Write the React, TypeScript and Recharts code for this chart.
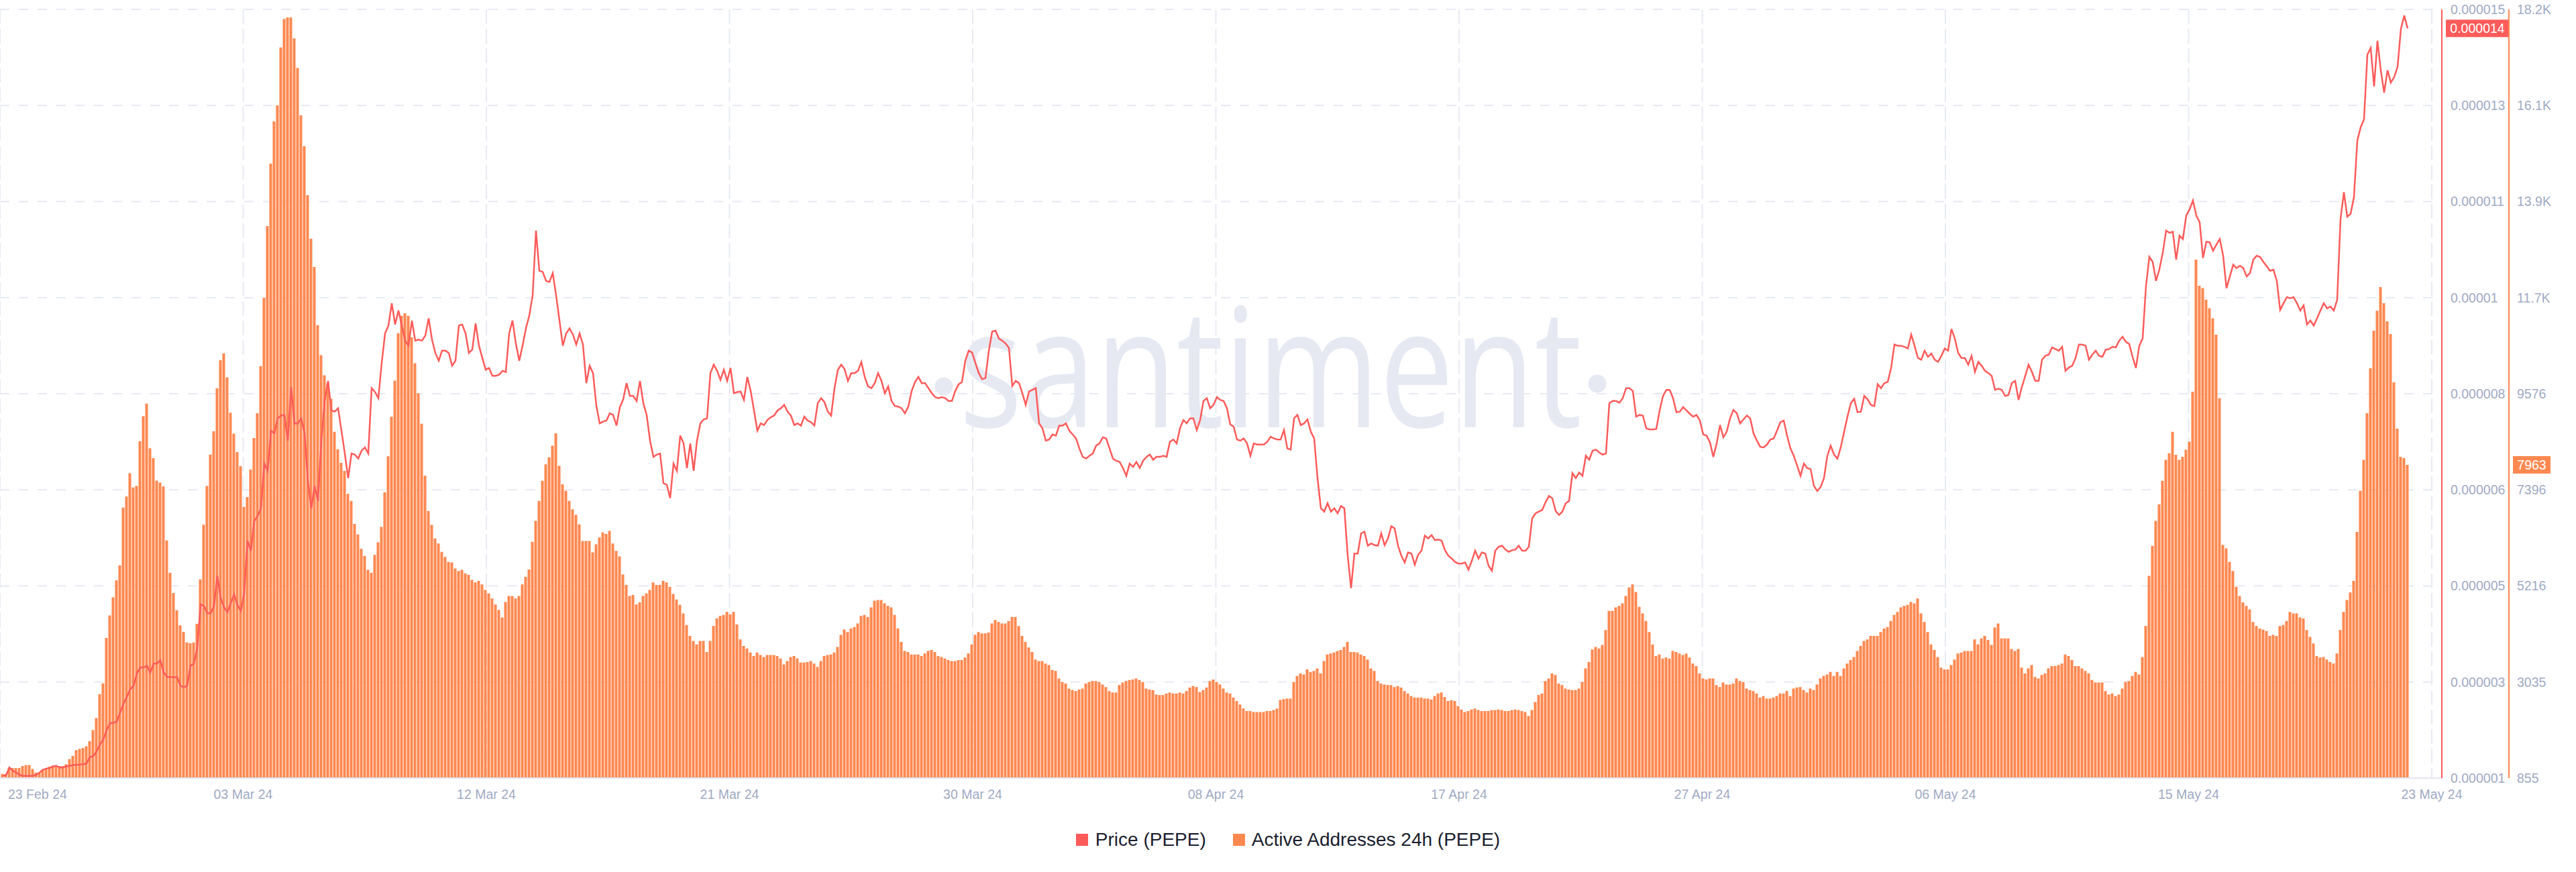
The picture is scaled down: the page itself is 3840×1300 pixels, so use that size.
import React from "react";
import {
  ComposedChart, Bar, Line, XAxis, YAxis, CartesianGrid, ReferenceLine,
} from "recharts";

// PEPE, 3-hourly samples from 23 Feb 24 to 23 May 24
const activeAddresses = [
  950, 950, 1083, 1083, 1083, 1083, 1129, 1150, 1150, 1062, 980, 980, 1048, 1068, 1115, 1137, 1129, 1129, 1129, 1170,
  1286, 1360, 1490, 1517, 1537, 1578, 1694, 1945, 2217, 2760, 3004, 4037, 4547, 4955, 5342, 5681, 6993, 7244, 7774, 7448,
  7482, 8501, 9066, 9350, 8338, 8115, 7605, 7558, 7470, 6246, 5512, 5057, 4663, 4323, 4173, 3935, 3916, 3935, 4357, 5363,
  6606, 7482, 8196, 8725, 9698, 10337, 10492, 9949, 9147, 8672, 8251, 7931, 7007, 7232, 7856, 8570, 9133, 10200,
  11753, 13381, 14797, 15755, 16121, 17434, 18079, 18114, 18114, 17638, 16968, 15892, 15192, 14081, 13092, 12452,
  11131, 10450, 9996, 9814, 9462, 8713, 8315, 8009, 7827, 7305, 7146, 6623, 6385, 6056, 5897, 5579, 5511, 5919, 6203, 6555,
  7339, 8156, 9053, 9871, 10950, 11347, 11404, 11347, 10859, 10268, 9587, 8894, 7714, 6918, 6601, 6294, 6180, 5987, 5874, 5760,
  5749, 5613, 5556, 5579, 5499, 5465, 5352, 5295, 5329, 5249, 5124, 5045, 4931, 4795, 4670, 4500, 4852, 4988, 4988, 4931,
  4988, 5249, 5420, 5590, 6215, 6691, 7146, 7600, 7975, 8134, 8395, 8679, 7941, 7520, 7373, 7146, 6953, 6828, 6612, 6237,
  6237, 6237, 5976, 6158, 6317, 6430, 6396, 6464, 6180, 6010, 5885, 5476, 5238, 4988, 5011, 4795, 4841,
  4988, 5045, 5124, 5295, 5238, 5238, 5329, 5295, 5193, 5034, 4909, 4784, 4591, 4330, 4080, 3966, 3887, 3966, 3966, 3717,
  3966, 4307, 4477, 4534, 4557, 4625, 4568, 4625, 4341, 4000, 3853, 3796, 3705, 3626, 3705, 3648, 3603, 3648, 3648, 3648,
  3626, 3569, 3433, 3512, 3603, 3626, 3569, 3478, 3478, 3489, 3512, 3455, 3376, 3512, 3626, 3648, 3660, 3705, 3830, 4103,
  4227, 4171, 4250, 4284, 4364, 4534, 4557, 4511, 4727, 4875, 4897, 4897, 4818, 4761, 4727, 4557, 4250, 3944, 3739, 3717,
  3660, 3660, 3660, 3626, 3683, 3739, 3762, 3717, 3626, 3603, 3569, 3535, 3512, 3512, 3535, 3535, 3592, 3683, 3887, 4103,
  4171, 4137, 4137, 4159, 4364, 4443, 4398, 4364, 4364, 4420, 4511, 4511, 4307, 4080, 3944, 3819, 3717, 3546, 3512, 3512,
  3455, 3421, 3308, 3285, 3115, 3035, 3001, 2888, 2853, 2831, 2865, 2888, 3001, 3035, 3058, 3058, 3035, 2978, 2922, 2831,
  2797, 2797, 2967, 3024, 3058, 3081, 3092, 3115, 3081, 3035, 2888, 2865, 2853, 2751, 2740, 2740, 2774, 2797, 2774, 2774,
  2797, 2774, 2831, 2910, 2944, 2922, 2808, 2853, 2910, 3058, 3092, 3035, 2978, 2888, 2797, 2774, 2683, 2604, 2524, 2433,
  2377, 2377, 2354, 2354, 2354, 2354, 2377, 2377, 2399, 2433,
  2626, 2649, 2660, 2660, 3035, 3171, 3228, 3205, 3319, 3262, 3285, 3342, 3228, 3512, 3660, 3683, 3705, 3739, 3762, 3830,
  3944, 3717, 3717, 3705, 3660, 3626, 3546, 3342, 3285, 3058, 3001, 2978, 2967, 2967, 2922, 2944, 2910, 2831, 2774, 2717,
  2683, 2683, 2683, 2660, 2660, 2638, 2717, 2774, 2797, 2695, 2604, 2626, 2604, 2490, 2411, 2354, 2377, 2411, 2433, 2399,
  2377, 2377, 2377, 2399, 2399, 2411, 2399, 2377, 2377, 2399, 2411, 2399, 2377, 2354, 2263, 2399, 2581, 2740, 2774, 3058,
  3115, 3228, 3194, 3001, 2967, 2888, 2865, 2853, 2853, 2888, 3035, 3342, 3489, 3773, 3830, 3796, 3875, 4216, 4648, 4648,
  4727, 4761, 4818, 4988, 5181, 5249, 5079, 4738, 4591, 4420, 4171, 3887, 3626, 3660, 3569, 3592, 3569, 3739, 3717, 3683,
  3648, 3683, 3592, 3455, 3398, 3228, 3115, 3092, 3115, 3115, 2967, 2922, 3024, 2978, 2978, 3001, 3115, 3058, 3035, 2888,
  2853, 2831, 2774, 2683, 2717, 2660, 2660, 2683, 2717, 2774, 2774, 2831, 2717, 2888, 2910, 2922, 2853, 2797, 2888, 2853,
  2978, 3115, 3171, 3205, 3262, 3171, 3262, 3171, 3342, 3455, 3535, 3603, 3739, 3853, 3966, 4000, 4080, 4080, 4080, 4171,
  4250, 4284, 4420, 4557, 4625, 4727, 4761, 4784, 4852,
  4818, 4931, 4591, 4398, 4171, 3887, 3762, 3603, 3364, 3319, 3319, 3421, 3546, 3683, 3705, 3739, 3739, 3739, 4000, 3887,
  4023, 4080, 3989, 3875, 4273, 4364, 4023, 4023, 4023, 3785, 3739, 3785, 3364, 3228, 3342, 3421, 3149, 3115, 3194, 3228,
  3342, 3398, 3398, 3421, 3455, 3660, 3626, 3535, 3398, 3398, 3342, 3285, 3228, 3081, 3024, 3024, 3024, 2831, 2751, 2774,
  2717, 2751, 2888, 3035, 3058, 3171, 3262, 3205, 3603, 4307, 5443, 6124, 6691, 7066, 7600, 8077, 8224, 8713, 8190, 8077,
  8145, 8304, 8486, 9621, 12619, 12028, 11972, 11711, 11518, 11290, 10915, 9473, 6146, 6067, 5760, 5556, 5193, 4988, 4841, 4761,
  4682, 4398, 4307, 4250, 4227, 4193, 4080, 4103, 4080, 4307, 4330, 4420, 4625, 4591, 4591, 4500, 4477, 4216, 4057, 3910,
  3626, 3592, 3603, 3546, 3489, 3455, 3683, 4216, 4625, 4897, 5068, 5329, 6442, 7373, 8077, 9133, 10155, 11007, 11461, 11995,
  11631, 11220, 10931, 9835, 8785, 8145, 8115, 7963,
];

// price in USD x 1e6
const priceMicro = [
  1.14, 1.15, 1.29, 1.23, 1.20, 1.16, 1.14, 1.14, 1.14, 1.14, 1.16, 1.20, 1.25, 1.27, 1.28, 1.31, 1.32, 1.29, 1.29, 1.31,
  1.32, 1.33, 1.34, 1.34, 1.35, 1.36, 1.48, 1.49, 1.58, 1.70, 1.79, 1.96, 2.08, 2.09, 2.11, 2.27, 2.43, 2.55, 2.69, 2.75,
  2.97, 3.08, 3.08, 3.11, 2.99, 3.15, 3.15, 3.21, 2.99, 2.91, 2.91, 2.90, 2.91, 2.75, 2.73, 2.75, 3.11, 3.15, 3.42, 4.21,
  4.18, 4.05, 4.05, 4.18, 4.72, 4.32, 4.16, 4.07, 4.23, 4.39, 4.20, 4.09, 4.41, 5.35, 5.17, 5.70, 5.79, 5.93, 6.73, 6.60,
  7.32, 7.27, 7.54, 7.59, 7.60, 7.14, 8.10, 7.45, 7.45, 7.54, 7.27, 6.42, 5.93, 6.33, 6.06, 7.14, 7.85, 8.21, 7.68, 7.66,
  7.72, 7.32, 6.91, 6.47, 6.91, 6.89, 6.82, 6.96, 7.02, 6.91, 8.08, 8.01, 7.90, 8.53, 9.06, 9.20, 9.60, 9.22, 9.47, 9.20,
  8.93, 8.84, 9.29, 8.93, 8.95, 8.93, 9.02, 9.33, 8.95, 8.71, 8.57, 8.75, 8.75, 8.71, 8.48, 8.57, 9.20, 9.22, 9.06, 8.71,
  8.77, 9.24, 8.84, 8.62, 8.41, 8.44, 8.30, 8.30, 8.32, 8.39, 8.37, 9.06, 9.29, 8.88, 8.57, 8.84, 9.15, 9.38, 9.74, 10.90,
  10.18, 10.16, 10.00, 9.98, 10.14, 9.74, 9.29, 8.84, 9.06, 9.15, 9.04, 8.86, 9.06, 8.86, 8.17, 8.48, 8.35, 7.76, 7.45, 7.48,
  7.50, 7.63, 7.60, 7.41, 7.74, 7.88, 8.17, 7.94, 7.94, 7.85, 8.21,
  7.81, 7.60, 7.14, 6.85, 6.89, 6.91, 6.38, 6.35, 6.11, 6.73, 6.60, 7.23, 7.09, 6.65, 7.09, 6.60, 7.14, 7.45, 7.52, 7.54,
  8.35, 8.50, 8.39, 8.23, 8.41, 8.21, 8.44, 7.99, 8.01, 8.02, 7.87, 8.28, 8.03, 7.68, 7.32, 7.45, 7.42, 7.51, 7.56, 7.59,
  7.68, 7.72, 7.78, 7.66, 7.59, 7.42, 7.45, 7.41, 7.57, 7.50, 7.47, 7.41, 7.81, 7.90, 7.83, 7.66, 7.59, 8.08, 8.41, 8.50,
  8.42, 8.21, 8.35, 8.35, 8.39, 8.55, 8.28, 8.11, 8.08, 8.17, 8.35, 8.21, 7.99, 8.11, 7.85, 7.76, 7.75, 7.72, 7.63, 7.75,
  8.03, 8.19, 8.28, 8.17, 8.17, 8.08, 7.99, 7.92, 7.90, 7.92, 7.90, 7.85, 7.85, 8.03, 8.15, 8.19, 8.57, 8.75, 8.72, 8.53,
  8.35, 8.24, 8.26, 8.75, 9.09, 9.11, 8.97, 8.93, 8.88, 8.80, 8.12, 8.21, 8.17, 7.99, 7.78, 8.02, 8.05, 8.08, 7.45, 7.36,
  7.14, 7.16, 7.25, 7.23, 7.41, 7.41, 7.45, 7.32, 7.25, 7.18, 7.00, 6.85, 6.82, 6.87, 6.91, 7.05, 7.09, 7.20, 7.18, 7.00,
  6.82, 6.78, 6.76, 6.65, 6.51, 6.73, 6.67, 6.76, 6.65, 6.78, 6.85, 6.89, 6.80, 6.85, 6.85, 6.87, 6.85, 7.12, 7.16, 7.09,
  7.36, 7.51, 7.45, 7.54, 7.54, 7.33, 7.51, 7.85, 7.90, 7.72, 7.78, 7.92, 7.87, 7.85, 7.72, 7.43, 7.39, 7.16, 7.14, 7.18,
  7.09, 6.87, 7.09, 7.07, 7.07, 7.07, 7.12, 7.21, 7.18, 7.16,
  7.16, 7.33, 7.00, 6.98, 7.54, 7.60, 7.42, 7.45, 7.52, 7.30, 7.18, 6.47, 5.93, 5.87, 6.02, 5.87, 5.93, 5.84, 5.97, 5.93,
  5.08, 4.50, 5.12, 5.12, 5.48, 5.51, 5.26, 5.30, 5.27, 5.26, 5.48, 5.27, 5.39, 5.61, 5.57, 5.26, 5.08, 4.96, 5.14, 5.12,
  4.92, 5.10, 5.17, 5.44, 5.39, 5.45, 5.36, 5.37, 5.35, 5.18, 5.08, 5.03, 4.97, 4.94, 4.94, 4.96, 4.83, 4.99, 5.17, 5.03,
  5.14, 5.12, 4.90, 4.81, 5.17, 5.24, 5.26, 5.19, 5.15, 5.18, 5.19, 5.26, 5.17, 5.17, 5.24, 5.75, 5.84, 5.87, 5.90, 6.04,
  6.15, 6.11, 5.88, 5.81, 5.87, 6.02, 6.06, 6.56, 6.47, 6.57, 6.51, 6.87, 6.80, 6.96, 6.98, 6.93, 6.89, 6.91, 7.81, 7.85,
  7.85, 7.82, 7.90, 8.08, 8.08, 8.03, 7.57, 7.60, 7.59, 7.36, 7.34, 7.34, 7.35, 7.68, 7.94, 8.05, 8.05, 7.90, 7.65, 7.66,
  7.74, 7.68, 7.62, 7.57, 7.60, 7.50, 7.25, 7.23, 7.11, 6.85, 7.09, 7.42, 7.20, 7.30, 7.54, 7.69, 7.63, 7.45, 7.52, 7.59,
  7.54, 7.27, 7.14, 7.03, 7.02, 7.07, 7.16, 7.18, 7.32, 7.47, 7.50, 7.23, 7.00, 6.87, 6.69, 6.51, 6.73, 6.65, 6.63, 6.33,
  6.24, 6.31, 6.47, 6.87, 7.05, 6.89, 6.82, 7.02, 7.30, 7.57, 7.81, 7.89, 7.65, 7.66, 7.94, 7.88, 7.78, 7.76, 8.15, 8.08,
  8.17, 8.19, 8.44, 8.86, 8.84, 8.84, 8.82, 8.79, 9.04, 8.84,
  8.62, 8.59, 8.75, 8.64, 8.70, 8.59, 8.55, 8.66, 8.79, 8.75, 9.14, 8.97, 8.71, 8.62, 8.62, 8.50, 8.66, 8.37, 8.55, 8.48,
  8.39, 8.35, 8.30, 8.05, 8.07, 8.05, 7.94, 7.96, 8.17, 8.21, 7.87, 8.10, 8.30, 8.50, 8.37, 8.21, 8.21, 8.59, 8.66, 8.68,
  8.81, 8.78, 8.75, 8.82, 8.39, 8.45, 8.48, 8.62, 8.86, 8.86, 8.84, 8.59, 8.68, 8.75, 8.66, 8.64, 8.77, 8.78, 8.82, 8.81,
  8.93, 9.00, 8.91, 8.87, 8.64, 8.44, 8.84, 8.97, 9.91, 10.43, 10.34, 10.00, 10.21, 10.50, 10.90, 10.86, 10.88, 10.38, 10.81, 10.75,
  11.17, 11.28, 11.44, 11.17, 11.05, 10.41, 10.70, 10.69, 10.54, 10.65, 10.75, 10.45, 9.87, 10.08, 10.29, 10.23, 10.27, 10.23, 10.08, 10.14,
  10.38, 10.45, 10.43, 10.34, 10.26, 10.18, 10.20, 10.00, 9.48, 9.60, 9.71, 9.69, 9.71, 9.60, 9.47, 9.56, 9.22, 9.29, 9.20, 9.33,
  9.47, 9.60, 9.51, 9.54, 9.47, 9.66, 11.11, 11.59, 11.15, 11.20, 11.50, 12.51, 12.75, 12.89, 14.05, 14.17, 13.48, 14.30, 13.77, 13.37,
  13.77, 13.55, 13.65, 13.83, 14.51, 14.75, 14.52,
];

const dateLabels = [
  "23 Feb 24", "03 Mar 24", "12 Mar 24", "21 Mar 24", "30 Mar 24", "08 Apr 24",
  "17 Apr 24", "27 Apr 24", "06 May 24", "15 May 24", "23 May 24",
];
// sample index under each date label
const dateTicks = [-0.8, 71.7, 144.2, 216.7, 289.2, 361.7, 434.2, 506.7, 579.2, 651.7, 724.2];

const priceTicks = [1.1, 2.82, 4.54, 6.26, 7.98, 9.7, 11.42, 13.14, 14.86];
const priceTickLabels = [
  "0.000001", "0.000003", "0.000005", "0.000006", "0.000008",
  "0.00001", "0.000011", "0.000013", "0.000015",
];
const addrTicks = [855, 3035, 5216, 7396, 9576, 11757, 13937, 16117, 18297];
const addrTickLabels = ["855", "3035", "5216", "7396", "9576", "11.7K", "13.9K", "16.1K", "18.2K"];

const RED = "#FF5B5B";
const ORANGE = "#FF8850";
const MUTED = "#9FAAC4";
const GRID = "#E7EAF3";
const FONT = "'Liberation Sans', Arial, sans-serif";

// right-hand axes are stacked in id order, so the price axis id sorts first
const PRICE_AXIS = "p-price";
const USERS_AXIS = "u-users";

const data = activeAddresses.map((aa, i) => ({ i, aa, price: priceMicro[i] }));
const lastPrice = priceMicro[priceMicro.length - 1];
const lastAddr = activeAddresses[activeAddresses.length - 1];

const DateTick = (props: any) => {
  const { x, y, payload } = props;
  const k = dateTicks.indexOf(payload.value);
  const first = k === 0;
  return (
    <text
      x={first ? x + 12 : x}
      y={y + 31}
      textAnchor={first ? "start" : "middle"}
      fill={MUTED}
      fontSize={19.5}
      fontFamily={FONT}
    >
      {dateLabels[k]}
    </text>
  );
};

const hLine = (p: any) => (
  <line key={`h-${p.index}`} x1={p.x1} y1={p.y1} x2={p.x2} y2={p.y2}
    stroke={GRID} strokeWidth={2} strokeDasharray="14 14" />
);
const vLine = (p: any) => (
  <line key={`v-${p.index}`} x1={p.x1} y1={p.y1} x2={p.x2} y2={p.y2}
    stroke={GRID} strokeWidth={2} strokeDasharray="22 7" />
);

const badge = (text: string, fill: string, dx: number, w: number) => (props: any) => {
  const vb = props.viewBox;
  const right = vb.x + vb.width;
  return (
    <g>
      <rect x={right + dx} y={vb.y - 13} width={w} height={26} fill={fill} />
      <text x={right + dx + w / 2} y={vb.y} dy="0.36em" textAnchor="middle"
        fill="#fff" fontSize={19.5} fontFamily={FONT}>
        {text}
      </text>
    </g>
  );
};

const priceBadge = badge((Math.floor(lastPrice) / 1e6).toFixed(6), RED, 6, 94);
const addrBadge = badge(String(lastAddr), ORANGE, 106, 56);

export default function App() {
  return (
    <div style={{ position: "relative", width: 3840, height: 1300, background: "#fff", fontFamily: FONT }}>
      <style>{"body{margin:0}"}</style>

      {/* watermark sits behind the chart */}
      <svg width={3840} height={1300} style={{ position: "absolute", left: 0, top: 0 }}>
        <text x={1430} y={637} fontFamily="'Open Sans'" fontSize={247} fill="#E6E9F2"
          textLength={928} lengthAdjust="spacingAndGlyphs">
          santiment
        </text>
        <circle cx={1407} cy={576} r={13.5} fill="#E6E9F2" />
        <circle cx={2381} cy={572} r={13.5} fill="#E6E9F2" />
      </svg>

      <div style={{ position: "absolute", left: 0, top: 0 }}>
        <ComposedChart width={3840} height={1220} data={data}
          margin={{ top: 14, right: 0, bottom: 0, left: 0 }}>
          <CartesianGrid yAxisId={PRICE_AXIS} horizontal={hLine} vertical={vLine} />
          <XAxis
            dataKey="i" type="number" domain={[-0.8, 727.2]} allowDataOverflow
            ticks={dateTicks} interval={0} height={60}
            tickSize={0} tickMargin={0} tick={<DateTick />} tickLine={false}
            axisLine={{ stroke: "#E3E7F0", strokeWidth: 2 }}
          />
          <YAxis
            yAxisId={PRICE_AXIS} orientation="right" width={100}
            domain={[1.1, 14.86]} allowDataOverflow ticks={priceTicks} interval={0}
            tickFormatter={(v: number) => priceTickLabels[priceTicks.indexOf(v)]}
            tick={{ fill: MUTED, fontSize: 19.5, fontFamily: FONT }}
            tickSize={0} tickMargin={13} tickLine={false}
            axisLine={{ stroke: RED, strokeWidth: 2 }}
          />
          <YAxis
            yAxisId={USERS_AXIS} orientation="right" width={100}
            domain={[855, 18297]} allowDataOverflow ticks={addrTicks} interval={0}
            tickFormatter={(v: number) => addrTickLabels[addrTicks.indexOf(v)]}
            tick={{ fill: MUTED, fontSize: 19.5, fontFamily: FONT }}
            tickSize={0} tickMargin={12} tickLine={false}
            axisLine={{ stroke: ORANGE, strokeWidth: 2 }}
          />
          <Bar yAxisId={USERS_AXIS} dataKey="aa" fill={ORANGE} barSize={4} isAnimationActive={false} />
          <Line
            yAxisId={PRICE_AXIS} dataKey="price" type="linear" stroke={RED} strokeWidth={2.5}
            dot={false} activeDot={false} isAnimationActive={false}
          />
          <ReferenceLine yAxisId={PRICE_AXIS} y={lastPrice} stroke="none" label={priceBadge} />
          <ReferenceLine yAxisId={USERS_AXIS} y={lastAddr} stroke="none" label={addrBadge} />
        </ComposedChart>
      </div>

      <div style={{
        position: "absolute", left: 0, top: 1236, width: 3840, height: 32,
        display: "flex", justifyContent: "center", alignItems: "center",
        fontSize: 28, color: "#1A1D2E",
      }}>
        <span style={{ display: "flex", alignItems: "center" }}>
          <span style={{ width: 18, height: 18, background: RED, marginRight: 11 }} />
          Price (PEPE)
        </span>
        <span style={{ display: "flex", alignItems: "center", marginLeft: 40 }}>
          <span style={{ width: 18, height: 18, background: ORANGE, marginRight: 10 }} />
          Active Addresses 24h (PEPE)
        </span>
      </div>
    </div>
  );
}
